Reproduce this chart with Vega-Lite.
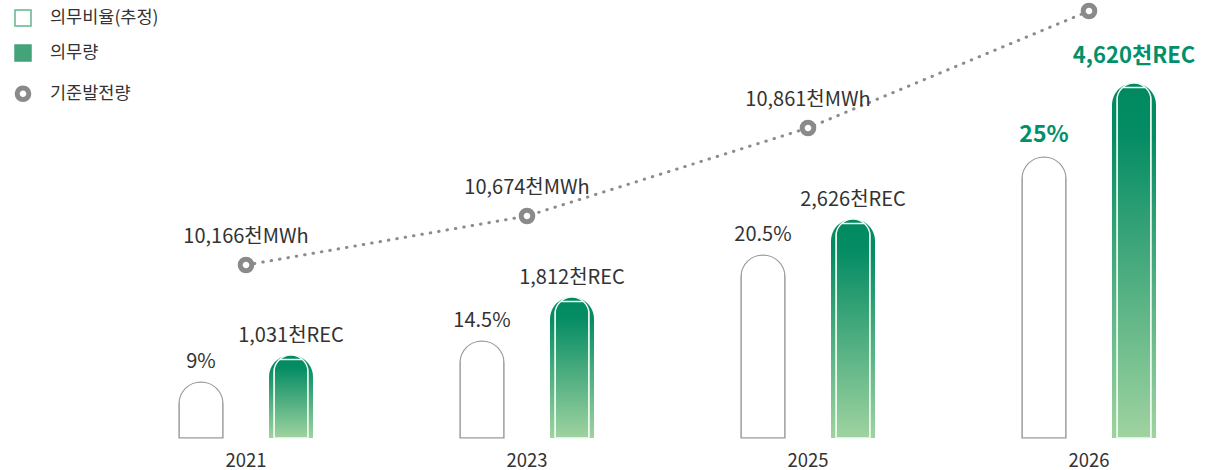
{
  "$schema": "https://vega.github.io/schema/vega-lite/v6.json",
  "width": 1209,
  "height": 438,
  "autosize": {"type": "none"},
  "padding": {"left": 0, "top": 0, "right": 0, "bottom": 32},
  "background": "white",
  "config": {
    "view": {"stroke": null},
    "font": "Noto Sans CJK KR",
    "legend": {"orient": "none", "legendX": 14, "legendY": 9, "direction": "vertical", "padding": 0, "labelFontSize": 17.5, "labelColor": "#333333", "labelFont": "Noto Sans CJK KR", "labelOffset": 18, "rowPadding": 13, "symbolOpacity": 1}
  },
  "data": {
    "values": [
      {"year": "2021", "kind": "ratio", "series": "의무비율(추정)", "value": 9, "label": "9%"},
      {"year": "2023", "kind": "ratio", "series": "의무비율(추정)", "value": 14.5, "label": "14.5%"},
      {"year": "2025", "kind": "ratio", "series": "의무비율(추정)", "value": 20.5, "label": "20.5%"},
      {"year": "2026", "kind": "ratio", "series": "의무비율(추정)", "value": 25, "label": "25%"},
      {"year": "2021", "kind": "volume", "series": "의무량", "value": 1031, "label": "1,031천REC"},
      {"year": "2023", "kind": "volume", "series": "의무량", "value": 1812, "label": "1,812천REC"},
      {"year": "2025", "kind": "volume", "series": "의무량", "value": 2626, "label": "2,626천REC"},
      {"year": "2026", "kind": "volume", "series": "의무량", "value": 4620, "label": "4,620천REC"},
      {"year": "2021", "kind": "gen", "series": "기준발전량", "value": 10166, "label": "10,166천MWh"},
      {"year": "2023", "kind": "gen", "series": "기준발전량", "value": 10674, "label": "10,674천MWh"},
      {"year": "2025", "kind": "gen", "series": "기준발전량", "value": 10861, "label": "10,861천MWh"},
      {"year": "2026", "kind": "gen", "series": "기준발전량", "value": 11050, "label": ""}
    ]
  },
  "encoding": {
    "x": {
      "field": "year", "type": "ordinal",
      "scale": {"domain": ["2021", "2023", "2025", "2026"], "range": [105.5, 1229.5], "paddingInner": 0, "paddingOuter": 0},
      "axis": {"title": null, "domain": false, "ticks": false, "labelFontSize": 18.5, "labelColor": "#333333", "labelPadding": 13, "labelAngle": 0, "labelFont": "Noto Sans CJK KR"}
    }
  },
  "layer": [
    {
      "transform": [{"filter": "datum.kind === 'ratio'"}],
      "mark": {"type": "bar", "fill": "white", "stroke": "#9a9a9a", "strokeWidth": 1.2, "cornerRadiusTopLeft": 22, "cornerRadiusTopRight": 22},
      "encoding": {
        "xOffset": {"field": "kind", "type": "nominal", "scale": {"domain": ["ratio", "volume"], "paddingInner": 0.511, "paddingOuter": 0.8165}},
        "y": {"field": "value", "type": "quantitative", "axis": null, "scale": {"domain": [0, 9, 14.5, 20.5, 25], "range": [438, 382, 341, 255, 157], "nice": false, "zero": false}}
      }
    },
    {
      "transform": [{"filter": "datum.kind === 'ratio' && datum.year !== '2026'"}],
      "mark": {"type": "text", "dy": -14, "baseline": "alphabetic", "fontSize": 20, "color": "#333333"},
      "encoding": {
        "xOffset": {"field": "kind", "type": "nominal", "scale": {"domain": ["ratio", "volume"], "paddingInner": 0.511, "paddingOuter": 0.8165}},
        "y": {"field": "value", "type": "quantitative", "axis": null, "scale": {"domain": [0, 9, 14.5, 20.5, 25], "range": [438, 382, 341, 255, 157], "nice": false, "zero": false}},
        "text": {"field": "label"}
      }
    },
    {
      "transform": [{"filter": "datum.kind === 'ratio' && datum.year === '2026'"}],
      "mark": {"type": "text", "dy": -15, "baseline": "alphabetic", "fontSize": 23, "fontWeight": "bold", "color": "#00906a"},
      "encoding": {
        "xOffset": {"field": "kind", "type": "nominal", "scale": {"domain": ["ratio", "volume"], "paddingInner": 0.511, "paddingOuter": 0.8165}},
        "y": {"field": "value", "type": "quantitative", "axis": null, "scale": {"domain": [0, 9, 14.5, 20.5, 25], "range": [438, 382, 341, 255, 157], "nice": false, "zero": false}},
        "text": {"field": "label"}
      }
    },
    {
      "transform": [{"filter": "datum.kind === 'volume'"}],
      "mark": {
        "type": "bar", "cornerRadiusTopLeft": 22, "cornerRadiusTopRight": 22,
        "fill": {"gradient": "linear", "x1": 0, "y1": 0, "x2": 0, "y2": 1, "stops": [{"offset": 0, "color": "#00895f"}, {"offset": 0.15, "color": "#058c64"}, {"offset": 1, "color": "#9fd3a0"}]}
      },
      "encoding": {
        "xOffset": {"field": "kind", "type": "nominal", "scale": {"domain": ["ratio", "volume"], "paddingInner": 0.511, "paddingOuter": 0.8165}},
        "y": {"field": "value", "type": "quantitative", "axis": null, "scale": {"domain": [0, 1031, 1812, 2626, 4620], "range": [438, 355, 297, 219, 83], "nice": false, "zero": false}}
      }
    },
    {
      "transform": [{"filter": "datum.kind === 'volume'"}],
      "mark": {"type": "bar", "fill": "transparent", "stroke": "#f2fbf4", "strokeWidth": 1.5, "width": 34, "yOffset": 4.5, "cornerRadiusTopLeft": 17, "cornerRadiusTopRight": 17},
      "encoding": {
        "xOffset": {"field": "kind", "type": "nominal", "scale": {"domain": ["ratio", "volume"], "paddingInner": 0.511, "paddingOuter": 0.8165}},
        "y": {"field": "value", "type": "quantitative", "axis": null, "scale": {"domain": [0, 1031, 1812, 2626, 4620], "range": [438, 355, 297, 219, 83], "nice": false, "zero": false}}
      }
    },
    {
      "transform": [{"filter": "datum.kind === 'volume' && datum.year !== '2026'"}],
      "mark": {"type": "text", "dy": -13, "baseline": "alphabetic", "fontSize": 20, "color": "#333333"},
      "encoding": {
        "xOffset": {"field": "kind", "type": "nominal", "scale": {"domain": ["ratio", "volume"], "paddingInner": 0.511, "paddingOuter": 0.8165}},
        "y": {"field": "value", "type": "quantitative", "axis": null, "scale": {"domain": [0, 1031, 1812, 2626, 4620], "range": [438, 355, 297, 219, 83], "nice": false, "zero": false}},
        "text": {"field": "label"}
      }
    },
    {
      "transform": [{"filter": "datum.kind === 'volume' && datum.year === '2026'"}],
      "mark": {"type": "text", "dy": -20, "baseline": "alphabetic", "fontSize": 22, "fontWeight": "bold", "color": "#00906a"},
      "encoding": {
        "xOffset": {"field": "kind", "type": "nominal", "scale": {"domain": ["ratio", "volume"], "paddingInner": 0.511, "paddingOuter": 0.8165}},
        "y": {"field": "value", "type": "quantitative", "axis": null, "scale": {"domain": [0, 1031, 1812, 2626, 4620], "range": [438, 355, 297, 219, 83], "nice": false, "zero": false}},
        "text": {"field": "label"}
      }
    },
    {
      "transform": [{"filter": "datum.kind === 'gen'"}],
      "mark": {"type": "line", "stroke": "#8c8c8c", "strokeWidth": 3, "strokeDash": [0.5, 8], "strokeCap": "round"},
      "encoding": {
        "y": {"field": "value", "type": "quantitative", "axis": null, "scale": {"domain": [10166, 10674, 10861, 11050], "range": [265, 216, 128, 11], "nice": false, "zero": false}}
      }
    },
    {
      "transform": [{"filter": "datum.kind === 'gen'"}],
      "mark": {"type": "point", "filled": true, "opacity": 1, "strokeJoin": "round"},
      "encoding": {
        "y": {"field": "value", "type": "quantitative", "axis": null, "scale": {"domain": [10166, 10674, 10861, 11050], "range": [265, 216, 128, 11], "nice": false, "zero": false}},
        "shape": {"field": "series", "type": "nominal", "legend": {"title": null}, "scale": {"domain": ["의무비율(추정)", "의무량", "기준발전량"], "range": ["square", "square", "circle"]}},
        "fill": {"field": "series", "type": "nominal", "legend": {"title": null}, "scale": {"domain": ["의무비율(추정)", "의무량", "기준발전량"], "range": ["#ffffff", "#44a378", "#ffffff"]}},
        "stroke": {"field": "series", "type": "nominal", "legend": {"title": null}, "scale": {"domain": ["의무비율(추정)", "의무량", "기준발전량"], "range": ["#62b68b", "#44a378", "#8a8a8a"]}},
        "strokeWidth": {"field": "series", "type": "nominal", "legend": {"title": null}, "scale": {"type": "ordinal", "domain": ["의무비율(추정)", "의무량", "기준발전량"], "range": [1.5, 1.5, 5]}},
        "size": {"field": "series", "type": "nominal", "legend": {"title": null}, "scale": {"type": "ordinal", "domain": ["의무비율(추정)", "의무량", "기준발전량"], "range": [256, 256, 135]}}
      }
    },
    {
      "transform": [{"filter": "datum.kind === 'gen' && datum.label !== ''"}],
      "mark": {"type": "text", "dy": -22, "baseline": "alphabetic", "fontSize": 20, "color": "#333333"},
      "encoding": {
        "y": {"field": "value", "type": "quantitative", "axis": null, "scale": {"domain": [10166, 10674, 10861, 11050], "range": [265, 216, 128, 11], "nice": false, "zero": false}},
        "text": {"field": "label"}
      }
    }
  ],
  "resolve": {"scale": {"y": "independent"}, "axis": {"y": "independent"}}
}
